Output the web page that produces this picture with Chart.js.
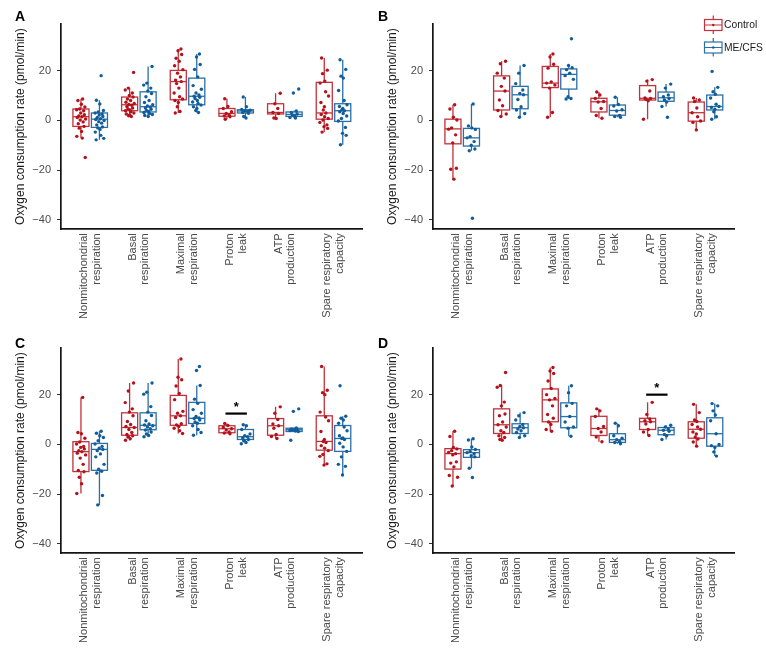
<!DOCTYPE html>
<html><head><meta charset="utf-8">
<script src="https://cdn.jsdelivr.net/npm/chart.js@4.4.1/dist/chart.umd.min.js"></script>
<style>
html,body{margin:0;padding:0;background:#fff;}
#wrap{position:relative;width:766px;height:652px;overflow:hidden;background:#fff;}
canvas{position:absolute;}
</style></head><body>
<div id="wrap">
<canvas id="cA" width="383" height="326" style="left:0;top:0"></canvas>
<canvas id="cC" width="383" height="328" style="left:0;top:324px"></canvas>
<canvas id="cB" width="394" height="326" style="left:372px;top:0"></canvas>
<canvas id="cD" width="394" height="328" style="left:372px;top:324px"></canvas>
</div>
<script>
// ---------- DATA ----------
const CATEGORIES = [['Nonmitochondrial','respiration'],['Basal','respiration'],['Maximal','respiration'],['Proton','leak'],['ATP','production'],['Spare respiratory','capacity']];
const SERIES = ['Control','ME/CFS'];
const Y_TICKS = [-40,-20,0,20];

// box stats per category: [lower whisker, Q1, median, Q3, upper whisker]
const A_control_box = [[-7.1,-2.4,1.5,4.6,8.6],[1.6,3.9,6.3,9.4,13.0],[3.0,8.3,15.6,20.1,28.7],[0.5,1.7,2.8,4.8,8.7],[0.8,2.6,3.2,6.7,10.9],[-4.7,0.5,3.0,15.3,25.1]];
const A_mecfs_box   = [[-7.8,-2.8,0.5,3.0,8.1],[1.6,3.4,5.5,11.5,21.7],[3.2,6.3,9.7,17.0,26.7],[1.0,3.0,3.8,4.3,9.4],[1.0,1.6,2.4,3.4,4.0],[-9.8,-0.4,3.9,6.7,24.4]];
const A_control_pts = [
  [8.6,8.0,6.5,5.4,4.6,4.3,3.9,3.0,2.3,1.8,1.5,1.2,0.6,0.2,-0.6,-1.3,-2.4,-3.1,-4.4,-6.4,-7.1,-14.9],
  [19.3,13.0,12.2,11.0,10.0,9.4,8.6,8.0,7.3,6.8,6.4,6.1,5.6,5.0,4.6,4.2,3.9,3.5,3.0,2.6,2.2,1.9,1.6],
  [28.7,28.0,26.5,25.0,23.8,22.0,20.4,19.0,17.5,16.2,15.6,14.8,13.0,11.0,9.5,8.6,8.0,7.2,5.5,3.6,3.0],
  [8.7,5.6,4.8,3.5,2.8,2.2,1.8,1.5,0.5],
  [10.9,6.7,4.8,3.2,2.8,1.0,0.8],
  [25.1,20.2,18.8,15.8,15.0,11.5,9.8,7.2,5.5,4.2,3.0,2.4,1.5,0.8,0.2,-0.8,-1.8,-2.5,-3.2,-4.7]
];
const A_mecfs_pts = [
  [18.0,8.1,6.6,4.0,3.4,3.0,2.6,2.2,1.6,1.2,0.7,0.4,0.0,-0.5,-1.1,-1.8,-2.6,-3.0,-3.6,-4.7,-6.0,-7.2,-7.8],
  [21.7,15.0,14.2,13.0,11.8,10.8,9.5,8.0,7.2,6.3,5.8,5.4,5.0,4.5,4.0,3.6,3.2,2.8,2.4,2.0,1.6],
  [26.7,25.5,22.5,20.5,17.5,14.0,12.5,11.0,10.2,9.7,9.3,8.8,8.0,7.4,6.8,6.2,5.5,4.8,4.0,3.2],
  [9.4,5.5,4.4,4.1,3.8,3.6,3.2,2.9,1.6,1.0],
  [12.6,11.0,3.8,3.2,2.6,2.2,1.8,1.2,1.0],
  [24.4,20.5,17.8,17.0,12.0,8.0,6.3,5.6,4.8,4.2,3.9,3.5,2.8,1.8,0.8,-0.2,-2.8,-5.2,-6.0,-9.8]
];

const B_control_box = [[-23.6,-9.4,-3.4,0.5,6.3],[1.6,4.2,11.8,17.9,23.8],[1.3,13.2,15.0,21.7,26.7],[0.9,3.4,7.5,8.9,11.4],[0.5,8.2,8.9,14.0,16.4],[-3.8,-0.3,3.1,7.4,9.0]];
const B_mecfs_box   = [[-12.2,-10.3,-7.0,-3.2,6.6],[1.3,4.7,10.3,13.7,22.1],[8.6,12.6,18.5,20.7,22.1],[1.3,2.1,4.0,6.2,9.3],[5.6,7.7,9.1,11.4,14.6],[0.5,4.2,5.6,10.2,13.3]];
const B_control_pts = [
  [6.3,4.6,1.3,0.2,-3.0,-3.5,-5.8,-9.0,-19.2,-19.6,-23.6],
  [23.8,22.8,19.0,17.0,13.7,11.8,8.2,5.9,4.0,2.6,1.6],
  [26.7,25.5,22.6,21.0,15.5,15.0,14.2,13.0,3.2,1.3],
  [11.4,10.2,8.8,7.6,7.4,4.8,2.0,0.9],
  [16.4,15.8,11.8,9.0,8.8,8.5,7.9,0.5],
  [9.0,8.2,7.6,5.0,3.1,1.5,-0.2,-0.8,-3.8]
];
const B_mecfs_pts = [
  [6.6,-2.2,-3.0,-3.6,-6.5,-7.0,-8.5,-10.0,-11.5,-12.2,-39.3],
  [22.1,19.0,14.8,12.2,10.8,10.3,8.4,5.5,4.2,2.8,1.3],
  [32.8,22.1,21.2,20.4,19.0,18.0,16.5,9.5,8.8,8.6],
  [9.3,6.4,5.8,4.3,3.8,2.0,1.6,1.3],
  [14.6,13.0,10.2,9.5,8.8,8.2,7.4,5.6,1.3],
  [19.7,13.3,11.5,10.5,9.0,6.5,5.6,5.2,4.5,3.5,1.5,0.5]
];

const C_control_box = [[-19.7,-10.9,-2.9,1.1,18.9],[1.7,3.7,6.8,12.7,24.7],[4.4,7.7,11.5,19.7,34.3],[4.3,4.7,6.3,7.5,8.4],[2.4,3.7,7.5,10.4,15.1],[-8.3,-2.3,1.2,11.5,31.3]];
const C_mecfs_box   = [[-24.3,-10.4,-2.0,0.4,5.3],[3.1,5.9,7.7,12.7,24.7],[3.7,8.4,10.5,16.9,23.7],[0.3,2.0,3.1,6.0,7.9],[5.0,5.2,5.9,6.5,6.8],[-12.3,-2.8,2.4,7.6,11.3]];
const C_control_pts = [
  [18.9,4.8,4.3,2.5,1.0,0.2,-0.8,-1.2,-1.8,-2.5,-2.9,-3.5,-4.2,-5.5,-8.0,-10.5,-11.0,-13.2,-15.8,-19.7],
  [24.7,21.5,16.8,14.3,13.0,11.5,9.2,8.0,7.2,6.8,6.0,4.8,4.0,3.5,3.0,2.3,1.7],
  [34.3,27.0,26.0,23.5,20.5,18.0,13.3,12.5,11.5,10.8,8.3,7.8,7.2,6.5,5.5,4.4],
  [8.4,7.6,6.8,6.3,5.8,5.0,4.6,4.3],
  [15.1,12.5,10.0,8.2,7.5,6.5,4.0,3.2,2.4],
  [31.3,21.8,20.8,20.0,13.0,11.0,9.5,5.2,2.0,1.2,0.8,-0.5,-1.5,-2.5,-4.0,-4.8,-7.8,-8.3]
];
const C_mecfs_pts = [
  [5.3,4.5,3.5,2.8,1.5,0.2,-0.8,-1.5,-2.0,-2.5,-3.8,-5.0,-8.0,-10.0,-10.8,-11.5,-20.5,-24.3],
  [24.7,21.0,20.2,15.2,13.0,11.6,9.5,8.2,7.8,7.5,7.0,6.3,5.8,5.0,4.2,3.6,3.1],
  [31.3,29.7,23.7,18.2,16.5,14.0,12.5,11.2,10.6,10.4,9.8,9.0,8.5,7.5,6.0,4.8,3.7],
  [7.9,7.5,6.0,4.2,3.5,3.1,2.6,2.0,1.5,0.8,0.3],
  [14.3,13.3,6.6,6.2,6.0,5.9,5.8,5.6,5.4,5.2,1.7],
  [23.6,11.3,10.5,9.8,8.5,7.0,5.5,3.5,2.6,2.4,2.0,0.5,-1.0,-2.8,-5.0,-8.0,-8.8,-12.3]
];

const D_control_box = [[-16.7,-9.9,-3.7,-1.7,5.3],[1.7,4.4,7.9,14.3,23.7],[5.3,9.1,17.9,22.3,30.9],[1.1,3.6,6.4,11.3,14.3],[3.6,6.0,9.1,10.5,16.9],[-0.7,2.5,6.1,9.1,16.1]];
const D_mecfs_box   = [[-9.6,-5.2,-3.3,-2.1,2.3],[2.8,4.4,6.7,8.3,12.8],[3.3,6.7,11.2,16.7,23.6],[0.3,0.8,1.9,4.3,8.5],[2.0,3.9,5.7,6.8,7.7],[-4.7,-0.7,4.3,10.7,16.4]];
const D_control_pts = [
  [5.3,3.2,-1.2,-1.8,-2.5,-3.2,-3.7,-4.2,-7.0,-7.5,-9.0,-12.5,-13.2,-16.7],
  [28.9,23.7,23.0,17.0,15.5,12.2,11.5,9.0,7.9,7.0,5.5,4.8,3.5,2.8,2.0,1.7],
  [30.9,29.5,28.5,25.5,22.5,20.0,18.5,17.9,15.5,12.0,10.5,9.0,8.0,6.0,5.3],
  [14.3,13.5,11.2,7.2,6.4,5.0,3.0,1.1],
  [16.9,12.0,10.2,9.5,9.1,8.2,6.0,5.0,3.6],
  [16.1,12.8,9.8,9.2,8.0,7.0,6.1,5.0,4.2,3.0,2.2,1.0,-0.7]
];
const D_mecfs_pts = [
  [2.3,1.8,-1.0,-2.0,-2.8,-3.3,-3.8,-4.5,-5.0,-9.6,-13.3],
  [12.8,11.5,9.8,8.0,7.2,6.7,6.2,5.5,4.8,3.5,2.8],
  [23.6,20.8,16.5,15.5,11.2,9.0,7.0,6.5,3.3],
  [8.5,7.5,3.5,2.5,1.9,1.2,0.8,0.3],
  [7.7,7.0,6.2,5.7,5.3,4.0,3.5,2.0],
  [16.4,15.5,13.5,11.8,9.5,4.3,0.0,-0.5,-1.2,-3.0,-4.7]
];

// significance markers: category index, bar value, star value
const C_SIG = {category:3, bar:12.4, star:15.6};
const D_SIG = {category:4, bar:20.0, star:23.3};

// ---------- STYLE ----------
const FONT = "'Liberation Sans', Arial, Helvetica, sans-serif";
const BOX_COL = ['#c2323a', '#2a6fa6'];
const PT_COL  = ['#b3121c', '#115d9a'];
const DODGE = 0.19, HALF_W = 0.165, JITTER_W = 0.1;
const JIT = [0.35,-0.62,0.08,0.81,-0.27,-0.9,0.55,-0.05,0.7,-0.45,0.2,-0.75,0.95,-0.15,0.45,-0.55,0.62,-0.35,0.12,-0.85,0.28,0.88,-0.68,0.02,-0.2];
const AREA_RIGHT = 362.7, AREA_BOTTOM = 229.3, Y_AXIS_W = 61, TOP_PAD = 24;

function toPoints(ptsByCat, side){
  const out = [];
  ptsByCat.forEach((arr, ci) => arr.forEach((v, k) => {
    out.push({x: ci + side*DODGE + JIT[(k + ci*3) % JIT.length]*JITTER_W, y: v});
  }));
  return out;
}

function makePanel(id, boxes, pts, letter, letterPos, sig, legend){
  const cv = document.getElementById(id);
  const W = cv.width, H = cv.height;
  const panelPlugin = {
    id: 'panel_'+id,
    beforeDatasetsDraw(chart){
      const {ctx, scales:{x, y}} = chart;
      ctx.save();
      boxes.forEach((bx, side) => {
        const s = side === 0 ? -1 : 1;
        bx.forEach((st, ci) => {
          const c = ci + s*DODGE;
          const xl = x.getPixelForValue(c - HALF_W), xr = x.getPixelForValue(c + HALF_W), xc = x.getPixelForValue(c);
          const [lo, q1, md, q3, hi] = st.map(v => y.getPixelForValue(v));
          ctx.strokeStyle = BOX_COL[side];
          ctx.lineWidth = 1.3;
          ctx.beginPath();
          ctx.moveTo(xc, q3); ctx.lineTo(xc, hi);
          ctx.moveTo(xc, q1); ctx.lineTo(xc, lo);
          ctx.stroke();
          ctx.strokeRect(xl, q3, xr - xl, q1 - q3);
          ctx.beginPath();
          ctx.moveTo(xl, md); ctx.lineTo(xr, md);
          ctx.stroke();
        });
      });
      ctx.restore();
    },
    afterDraw(chart){
      const {ctx, scales:{x, y}} = chart;
      ctx.save();
      ctx.fillStyle = '#000';
      ctx.font = 'bold 14px ' + FONT;
      ctx.textBaseline = 'alphabetic';
      ctx.textAlign = 'left';
      ctx.fillText(letter, letterPos[0], letterPos[1]);
      if (sig){
        const x1 = x.getPixelForValue(sig.category - 0.22), x2 = x.getPixelForValue(sig.category + 0.22);
        const yb = y.getPixelForValue(sig.bar);
        ctx.strokeStyle = '#000'; ctx.lineWidth = 2.2;
        ctx.beginPath(); ctx.moveTo(x1, yb); ctx.lineTo(x2, yb); ctx.stroke();
        ctx.font = 'bold 13px ' + FONT;
        ctx.textAlign = 'center'; ctx.textBaseline = 'middle';
        ctx.fillStyle = '#000';
        ctx.fillText('*', x.getPixelForValue(sig.category), y.getPixelForValue(sig.star) + 2);
      }
      if (legend){
        SERIES.forEach((name, i) => {
          const cy = 25 + i*22.5, x0 = 332.5, w = 17.5;
          ctx.strokeStyle = BOX_COL[i]; ctx.lineWidth = 1.2;
          ctx.strokeRect(x0, cy - 5.5, w, 11);
          ctx.beginPath();
          ctx.moveTo(x0, cy); ctx.lineTo(x0 + w, cy);
          ctx.moveTo(x0 + w/2, cy - 5.5); ctx.lineTo(x0 + w/2, cy - 9.5);
          ctx.moveTo(x0 + w/2, cy + 5.5); ctx.lineTo(x0 + w/2, cy + 9);
          ctx.stroke();
          ctx.fillStyle = PT_COL[i];
          ctx.beginPath(); ctx.arc(x0 + w/2, cy, 1.2, 0, Math.PI*2); ctx.fill();
          ctx.fillStyle = '#1a1a1a';
          ctx.font = '10.3px ' + FONT;
          ctx.textAlign = 'left'; ctx.textBaseline = 'middle';
          ctx.fillText(name, x0 + w + 2, cy + 0.5);
        });
      }
      ctx.restore();
    }
  };
  return new Chart(cv, {
    type: 'scatter',
    data: {
      datasets: pts.map((p, side) => ({
        label: SERIES[side],
        data: toPoints(p, side === 0 ? -1 : 1),
        pointRadius: 1.7,
        pointBorderWidth: 0,
        pointBackgroundColor: PT_COL[side],
        pointBorderColor: PT_COL[side],
        showLine: false
      }))
    },
    options: {
      responsive: false,
      animation: false,
      events: [],
      layout: {padding: {left: 0, right: W - AREA_RIGHT, top: TOP_PAD, bottom: 0}},
      plugins: {legend: {display: false}, tooltip: {enabled: false}},
      scales: {
        x: {
          type: 'linear', min: -0.6, max: 5.6,
          afterBuildTicks: s => { s.ticks = CATEGORIES.map((c, i) => ({value: i})); },
          afterFit: s => { s.height = H - AREA_BOTTOM; },
          grid: {display: false, drawTicks: false},
          border: {display: true, color: '#151515', width: 1.7},
          ticks: {
            autoSkip: false, minRotation: 90, maxRotation: 90, labelOffset: -6.3, padding: 4,
            font: {family: FONT, size: 11, lineHeight: 1.15}, color: '#4a4a4a',
            callback: v => CATEGORIES[Math.round(v)]
          }
        },
        y: {
          type: 'linear', min: -43.75, max: 38.75,
          afterBuildTicks: s => { s.ticks = Y_TICKS.map(v => ({value: v})); },
          afterFit: s => { s.width = Y_AXIS_W; },
          grid: {display: true, drawOnChartArea: false, drawTicks: true, tickLength: 4, color: '#333', lineWidth: 1},
          border: {display: true, color: '#151515', width: 1.7},
          ticks: {
            font: {family: FONT, size: 11}, color: '#4d4d4d', padding: 6,
            callback: v => v < 0 ? '\u2212' + Math.abs(v) : String(v)
          },
          title: {
            display: true, text: 'Oxygen consumption rate (pmol/min)',
            font: {family: FONT, size: 12}, color: '#1a1a1a', padding: {top: 13, bottom: 0}
          }
        }
      }
    },
    plugins: [panelPlugin]
  });
}

makePanel('cA', [A_control_box, A_mecfs_box], [A_control_pts, A_mecfs_pts], 'A', [15, 21], null, false);
makePanel('cB', [B_control_box, B_mecfs_box], [B_control_pts, B_mecfs_pts], 'B', [6, 21], null, true);
makePanel('cC', [C_control_box, C_mecfs_box], [C_control_pts, C_mecfs_pts], 'C', [15, 23.5], C_SIG, false);
makePanel('cD', [D_control_box, D_mecfs_box], [D_control_pts, D_mecfs_pts], 'D', [6, 23.5], D_SIG, false);
</script>
</body></html>
